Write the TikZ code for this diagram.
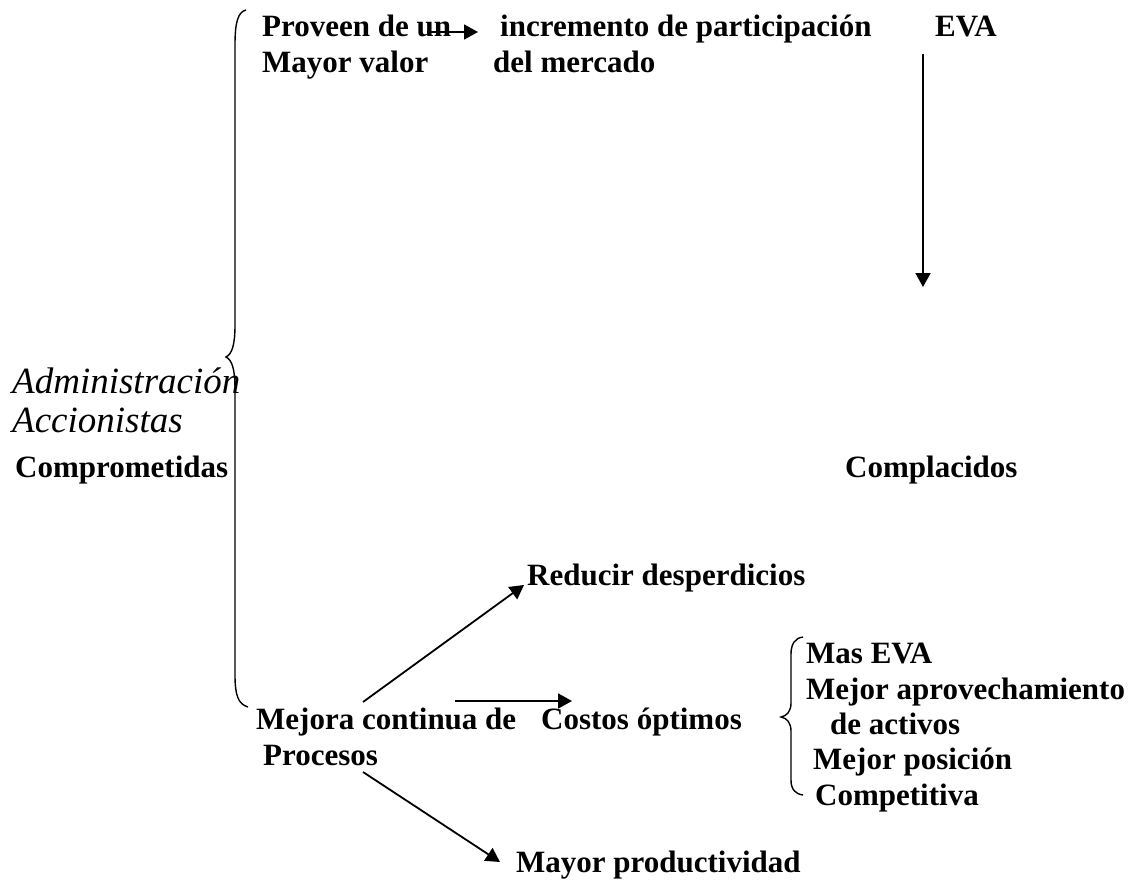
\documentclass[tikz,border=0pt]{standalone}
\usepackage{fontspec}
\setmainfont{Liberation Serif}
\usetikzlibrary{arrows.meta}

\begin{document}
\begin{tikzpicture}[
  x=1pt, y=-1pt,
  txt/.style={anchor=base west, inner sep=0pt, font=\fontsize{31}{36}\selectfont\bfseries},
  itx/.style={anchor=base west, inner sep=0pt, font=\fontsize{37}{40}\selectfont\itshape},
  arr/.style={line width=1.8pt, -{Triangle[length=14pt,width=15pt]}},
  brace/.style={line width=1.4pt}
]
\useasboundingbox (0,0) rectangle (1135,881);

% top row
\node[txt] (prov1) at (262,36) {Proveen de un};
\node[txt] (prov2) at (262,72) {Mayor valor};
\node[txt] (inc1) at (500,36) {incremento de participación};
\node[txt] (inc2) at (493,72) {del mercado};
\node[txt] (eva) at (935,36) {EVA};

% left labels
\node[itx] (adm) at (12,393) {Administración};
\node[itx] (acc) at (12,432) {Accionistas};
\node[txt] (compro) at (15,477) {Comprometidas};
\node[txt] (compla) at (845,477) {Complacidos};

% lower part
\node[txt] (reduc) at (527,585) {Reducir desperdicios};
\node[txt] (mejora1) at (256,729) {Mejora continua de};
\node[txt] (mejora2) at (263,765) {Procesos};
\node[txt] (costos) at (541,729) {Costos óptimos};
\node[txt] (prod) at (516,872) {Mayor productividad};

% results
\node[txt] (res1) at (806,663) {Mas EVA};
\node[txt] (res2) at (806,699) {Mejor aprovechamiento};
\node[txt] (res3) at (830,734) {de activos};
\node[txt] (res4) at (813,769) {Mejor posición};
\node[txt] (res5) at (815,805) {Competitiva};

\coordinate (evaEnd) at (923,287);

% arrows
\draw[arr] ([xshift=-24pt,yshift=4pt]prov1.base east) -- ([xshift=-22pt,yshift=4pt]inc1.base west);
\draw[arr] ([xshift=-12pt,yshift=-18pt]eva.base west) -- (evaEnd);
\draw[arr] ([xshift=107pt,yshift=27pt]mejora1.base west) -- ([xshift=-3pt]reduc.base west);
\draw[arr] ([xshift=199pt,yshift=28pt]mejora1.base west) -- ([xshift=31pt,yshift=28pt]costos.base west);
\draw[arr] ([xshift=100pt,yshift=-7pt]mejora2.base west) -- ([xshift=-16pt,yshift=10pt]prod.base west);

% braces
\draw[brace] (246,10) .. controls (238,12) and (235,22) .. (235,45) -- (235,325)
  .. controls (235,345) and (232,354) .. (226,357)
  .. controls (232,360) and (235,369) .. (235,389) -- (235,675)
  .. controls (235,695) and (238,704) .. (248,707);
\draw[brace] (803,637) .. controls (795,638) and (791,644) .. (791,654) -- (791,703)
  .. controls (791,711) and (787,716) .. (781,717)
  .. controls (787,718) and (791,723) .. (791,731) -- (791,780)
  .. controls (791,789) and (795,794) .. (803,795);

\end{tikzpicture}
\end{document}
